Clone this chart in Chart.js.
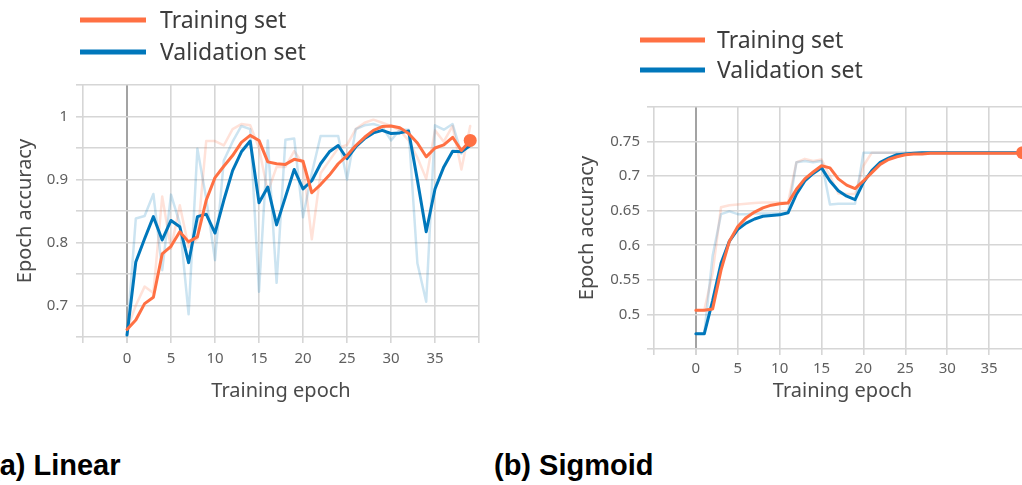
<!DOCTYPE html>
<html>
<head>
<meta charset="utf-8">
<script src="https://cdn.jsdelivr.net/npm/chart.js@4/dist/chart.umd.min.js"></script>
<style>
  html, body { margin: 0; padding: 0; background: #fff; overflow: hidden; width: 1022px; height: 485px; }
  #left { position: absolute; left: 0; top: 0; }
  #rightWrap { position: absolute; left: 500px; top: 0; width: 522px; height: 420px; overflow: hidden; }
  #right { position: absolute; left: 0; top: 0; }
  .cap { position: absolute; top: 449px; font-family: 'Liberation Sans', Arial, sans-serif; font-weight: bold; font-size: 29px; color: #000; white-space: nowrap; }
</style>
</head>
<body>
<canvas id="left" width="500" height="420"></canvas>
<div id="rightWrap"><canvas id="right" width="545" height="420"></canvas></div>
<div class="cap" style="left:-10px">(a) Linear</div>
<div class="cap" style="left:494px">(b) Sigmoid</div>
<script>
// Training epochs shared by both runs
const epochs = [0, 1, 2, 3, 4, 5, 6, 7, 8, 9, 10, 11, 12, 13, 14, 15, 16, 17, 18, 19,
                20, 21, 22, 23, 24, 25, 26, 27, 28, 29, 30, 31, 32, 33, 34, 35, 36, 37, 38, 39];

// Linear activation: smoothed curves
const linearTrainSmooth = [0.662, 0.677, 0.703, 0.713, 0.782, 0.794, 0.817, 0.801, 0.809, 0.867,
                           0.903, 0.921, 0.938, 0.959, 0.970, 0.962, 0.928, 0.925, 0.924, 0.932,
                           0.929, 0.879, 0.892, 0.907, 0.925, 0.938, 0.954, 0.967, 0.978, 0.984,
                           0.985, 0.982, 0.973, 0.958, 0.936, 0.950, 0.955, 0.967, 0.946, 0.962];
const linearValSmooth = [0.653, 0.769, 0.806, 0.841, 0.804, 0.835, 0.825, 0.768, 0.841, 0.845,
                         0.815, 0.867, 0.914, 0.944, 0.961, 0.863, 0.888, 0.828, 0.872, 0.916,
                         0.885, 0.898, 0.925, 0.944, 0.954, 0.933, 0.952, 0.965, 0.974, 0.978,
                         0.973, 0.974, 0.977, 0.899, 0.817, 0.885, 0.920, 0.945, 0.944, 0.954];
// Linear activation: raw per-epoch values
const linearTrainRaw = [0.662, 0.700, 0.730, 0.720, 0.873, 0.790, 0.859, 0.793, 0.806, 0.961,
                        0.961, 0.954, 0.980, 0.988, 0.986, 0.950, 0.880, 0.920, 0.920, 0.945,
                        0.925, 0.805, 0.910, 0.930, 0.950, 0.955, 0.980, 0.990, 0.995, 0.990,
                        0.985, 0.978, 0.962, 0.935, 0.901, 0.978, 0.960, 0.985, 0.916, 0.985];
const linearValRaw = [0.653, 0.838, 0.842, 0.877, 0.756, 0.876, 0.830, 0.686, 0.949, 0.870,
                      0.772, 0.930, 0.960, 0.985, 0.980, 0.722, 0.962, 0.736, 0.963, 0.965,
                      0.840, 0.910, 0.969, 0.969, 0.969, 0.900, 0.980, 0.986, 0.988, 0.984,
                      0.962, 0.979, 0.979, 0.767, 0.706, 0.986, 0.979, 0.988, 0.941, 0.962];

// Sigmoid activation: smoothed curves
const sigmoidTrainSmooth = [0.506, 0.506, 0.508, 0.564, 0.606, 0.627, 0.640, 0.648, 0.654, 0.658,
                            0.660, 0.661, 0.681, 0.696, 0.706, 0.715, 0.712, 0.696, 0.687, 0.682,
                            0.693, 0.705, 0.717, 0.724, 0.728, 0.731, 0.732, 0.732, 0.733, 0.733,
                            0.733, 0.733, 0.733, 0.733, 0.733, 0.733, 0.733, 0.733, 0.733, 0.734];
const sigmoidValSmooth = [0.472, 0.472, 0.520, 0.574, 0.606, 0.623, 0.632, 0.638, 0.642, 0.643,
                          0.644, 0.647, 0.674, 0.693, 0.704, 0.712, 0.693, 0.679, 0.671, 0.666,
                          0.691, 0.708, 0.720, 0.726, 0.731, 0.732, 0.733, 0.734, 0.734, 0.734,
                          0.734, 0.734, 0.734, 0.734, 0.734, 0.734, 0.734, 0.734, 0.734, 0.734];
// Sigmoid activation: raw per-epoch values
const sigmoidTrainRaw = [0.506, 0.506, 0.560, 0.655, 0.658, 0.659, 0.660, 0.661, 0.662, 0.662,
                         0.662, 0.662, 0.720, 0.725, 0.722, 0.724, 0.700, 0.675, 0.674, 0.674,
                         0.715, 0.734, 0.734, 0.734, 0.734, 0.734, 0.734, 0.734, 0.734, 0.734,
                         0.734, 0.734, 0.734, 0.734, 0.734, 0.734, 0.734, 0.734, 0.734, 0.734];
const sigmoidValRaw = [0.472, 0.472, 0.585, 0.645, 0.649, 0.645, 0.645, 0.646, 0.646, 0.646,
                       0.646, 0.647, 0.720, 0.722, 0.720, 0.722, 0.659, 0.660, 0.660, 0.660,
                       0.734, 0.734, 0.734, 0.734, 0.734, 0.734, 0.734, 0.734, 0.734, 0.734,
                       0.734, 0.734, 0.734, 0.734, 0.734, 0.734, 0.734, 0.734, 0.734, 0.734];

const seriesNames = ['Training set', 'Validation set'];
const ORANGE = '#ff7043';
const BLUE = '#0077bb';

Chart.defaults.font.family = "'Noto Sans', 'Open Sans', sans-serif";

const pairs = (ys) => epochs.map((e, i) => ({ x: e, y: ys[i] }));

// Two-row legend key drawn above the plot
const lineKey = {
  id: 'lineKey',
  afterDraw(chart, args, opts) {
    const ctx = chart.ctx;
    ctx.save();
    ctx.font = opts.font;
    ctx.textBaseline = 'middle';
    ctx.lineCap = 'butt';
    opts.items.forEach((dsIndex, row) => {
      const ds = chart.data.datasets[dsIndex];
      const y = opts.y + row * opts.rowGap;
      ctx.strokeStyle = ds.borderColor;
      ctx.lineWidth = opts.lineWidth;
      ctx.beginPath();
      ctx.moveTo(opts.x, y);
      ctx.lineTo(opts.x + opts.length, y);
      ctx.stroke();
      ctx.fillStyle = opts.color;
      ctx.fillText(ds.label, opts.textX, y + 1);
    });
    ctx.restore();
  }
};

function makeChart(canvasId, cfg) {
  const lastIdx = epochs.length - 1;
  const datasets = [
    { label: seriesNames[0], data: pairs(cfg.trainSmooth), borderColor: ORANGE, backgroundColor: ORANGE,
      borderWidth: 3, pointRadius: (c) => c.dataIndex === lastIdx ? 6.5 : 0, pointBackgroundColor: ORANGE,
      pointBorderWidth: 0 },
    { label: seriesNames[1], data: pairs(cfg.valSmooth), borderColor: BLUE, backgroundColor: BLUE,
      borderWidth: 3, pointRadius: 0 },
    { label: seriesNames[1] + ' (raw)', data: pairs(cfg.valRaw), borderColor: 'rgba(0,119,187,0.2)',
      borderWidth: 2.5, pointRadius: 0 },
    { label: seriesNames[0] + ' (raw)', data: pairs(cfg.trainRaw), borderColor: 'rgba(255,112,67,0.2)',
      borderWidth: 2.5, pointRadius: 0 }
  ];
  return new Chart(document.getElementById(canvasId), {
    type: 'line',
    data: { datasets },
    plugins: [lineKey],
    options: {
      responsive: false,
      animation: false,
      events: [],
      clip: false,
      elements: { line: { tension: 0, borderJoinStyle: 'round', borderCapStyle: 'round' } },
      layout: { padding: cfg.padding },
      plugins: {
        legend: { display: false },
        tooltip: { enabled: false },
        lineKey: cfg.key
      },
      scales: {
        x: {
          type: 'linear', min: -5, max: 40,
          afterFit: (s) => { s.height = cfg.xHeight; },
          ticks: {
            stepSize: 5, autoSkip: false, maxRotation: 0, padding: cfg.xTickPad,
            color: '#5f5f5f', font: { size: 15 },
            callback: (v) => (v >= 0 && v <= 35) ? String(v) : ''
          },
          grid: {
            color: (c) => c.tick && c.tick.value === 0 ? '#a3a3a3' : '#d6d6d6',
            lineWidth: (c) => c.tick && c.tick.value === 0 ? 2 : 1.6,
            tickColor: '#d6d6d6', tickLength: 6
          },
          border: { display: false },
          title: { display: true, text: 'Training epoch', color: '#4a4a4a', font: { size: 20 },
                   padding: { top: 0, bottom: 17 } }
        },
        y: {
          type: 'linear', min: cfg.yMin, max: cfg.yMax,
          afterFit: (s) => { s.width = cfg.yWidth; },
          ticks: {
            stepSize: 0.05, padding: cfg.yTickPad, color: '#5f5f5f', font: { size: 15 },
            callback: (v) => {
              const r = Math.round(v * 100) / 100;
              return cfg.yLabels.some((l) => Math.abs(l - r) < 1e-6) ? String(r) : '';
            }
          },
          grid: { color: '#d6d6d6', lineWidth: 1.6, tickLength: 7 },
          border: { display: false },
          title: { display: true, text: 'Epoch accuracy', color: '#4a4a4a', font: { size: 20 },
                   padding: { top: cfg.yTitlePad, bottom: 0 } }
        }
      }
    }
  });
}

makeChart('left', {
  trainSmooth: linearTrainSmooth, valSmooth: linearValSmooth,
  trainRaw: linearTrainRaw, valRaw: linearValRaw,
  yMin: 0.65, yMax: 1.05, yLabels: [0.7, 0.8, 0.9, 1],
  padding: { top: 85, left: 0, right: 21, bottom: 0 },
  xHeight: 83, yWidth: 83, xTickPad: 7, yTickPad: 8, yTitlePad: 13,
  key: { x: 80, y: 20, rowGap: 32, length: 66, lineWidth: 5, textX: 160,
         font: "23px 'Noto Sans', sans-serif", color: '#3c3c3c', items: [0, 1] }
});

makeChart('right', {
  trainSmooth: sigmoidTrainSmooth, valSmooth: sigmoidValSmooth,
  trainRaw: sigmoidTrainRaw, valRaw: sigmoidValRaw,
  yMin: 0.45, yMax: 0.8, yLabels: [0.5, 0.55, 0.6, 0.65, 0.7, 0.75],
  padding: { top: 107, left: 0, right: 14, bottom: 0 },
  xHeight: 71, yWidth: 154, xTickPad: 5, yTickPad: 7, yTitlePad: 75,
  key: { x: 140, y: 40, rowGap: 30, length: 65, lineWidth: 5, textX: 217,
         font: "23px 'Noto Sans', sans-serif", color: '#3c3c3c', items: [0, 1] }
});
</script>
</body>
</html>
